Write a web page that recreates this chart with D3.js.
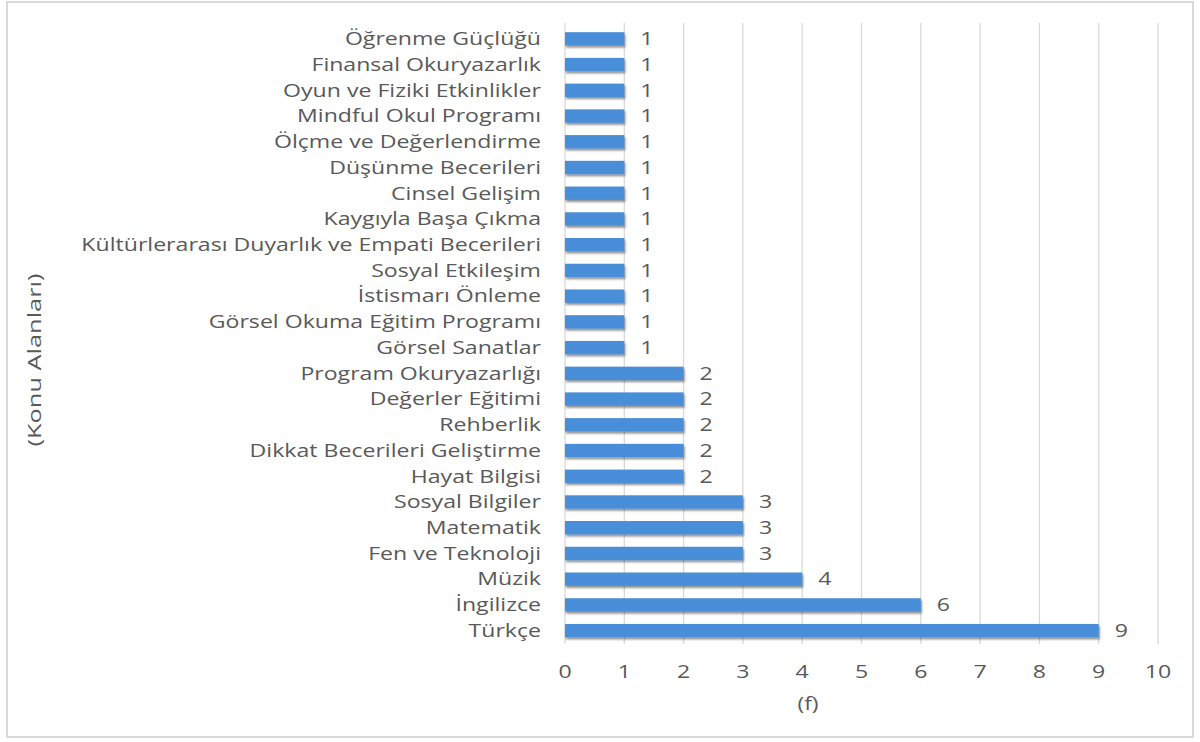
<!DOCTYPE html>
<html><head><meta charset="utf-8">
<script src="https://cdn.jsdelivr.net/npm/d3@7"></script>
<style>body{margin:0;background:#fff}svg{display:block}</style>
</head><body>
<svg id="c" width="1200" height="742"></svg>
<script>
const categories = ["Öğrenme Güçlüğü","Finansal Okuryazarlık","Oyun ve Fiziki Etkinlikler","Mindful Okul Programı","Ölçme ve Değerlendirme","Düşünme Becerileri","Cinsel Gelişim","Kaygıyla Başa Çıkma","Kültürlerarası Duyarlık ve Empati Becerileri","Sosyal Etkileşim","İstismarı Önleme","Görsel Okuma Eğitim Programı","Görsel Sanatlar","Program Okuryazarlığı","Değerler Eğitimi","Rehberlik","Dikkat Becerileri Geliştirme","Hayat Bilgisi","Sosyal Bilgiler","Matematik","Fen ve Teknoloji","Müzik","İngilizce","Türkçe"];
const values = [1,1,1,1,1,1,1,1,1,1,1,1,1,2,2,2,2,2,3,3,3,4,6,9];
const xTicks = [0,1,2,3,4,5,6,7,8,9,10];
const xTitle = "(f)";
const yTitle = "(Konu Alanları)";

const svg = d3.select("#c");
const font = "'Open Sans', sans-serif";
const textColor = "#595959";
const FS = 17.5, SX = 1.32;

svg.append("rect").attr("x",7).attr("y",2).attr("width",1186).attr("height",735)
  .attr("fill","#fff").attr("stroke","#d9d9d9").attr("stroke-width",2);

const defs = svg.append("defs");
const f = defs.append("filter").attr("id","sh").attr("x","-5%").attr("y","-50%").attr("width","110%").attr("height","250%");
f.append("feDropShadow").attr("dx",1).attr("dy",2).attr("stdDeviation",1.2).attr("flood-color","#000").attr("flood-opacity",0.45);

const x = d3.scaleLinear().domain([0,10]).range([565,1158]);
const y = d3.scaleBand().domain(categories).range([26,643.5]).paddingInner(0.48).paddingOuter(0.24);

// gridlines
svg.append("g").selectAll("line").data(xTicks).join("line")
  .attr("x1",d=>x(d)).attr("x2",d=>x(d)).attr("y1",23).attr("y2",644)
  .attr("stroke","#d9d9d9").attr("stroke-width",1.3);

// bars
svg.append("g").selectAll("rect").data(categories).join("rect")
  .attr("x",x(0)).attr("y",d=>y(d)).attr("width",(d,i)=>x(values[i])-x(0)).attr("height",y.bandwidth())
  .attr("fill","#4a8ed8").attr("filter","url(#sh)");

function stext(g, tx, ty, anchor, size, sx) {
  return g.attr("transform",(d,i)=>`translate(${tx(d,i)},${ty(d,i)}) scale(${sx},1)`)
    .attr("dy","0.36em").attr("text-anchor",anchor)
    .attr("font-family",font).attr("font-size",size).attr("fill",textColor);
}

// value labels
stext(svg.append("g").selectAll("text").data(categories).join("text"),
  (d,i)=>x(values[i])+16, d=>y(d)+y.bandwidth()/2, "start", FS, SX)
  .text((d,i)=>values[i]);

// category labels
stext(svg.append("g").selectAll("text").data(categories).join("text"),
  d=>541, d=>y(d)+y.bandwidth()/2, "end", FS, SX)
  .text(d=>d);

// x tick labels
stext(svg.append("g").selectAll("text").data(xTicks).join("text"),
  d=>x(d), d=>672, "middle", FS, SX)
  .text(d=>d);

stext(svg.append("g").selectAll("text").data([xTitle]).join("text"),
  d=>808, d=>703, "middle", 19, 1.2).text(d=>d);

svg.append("text").attr("transform","translate(35,360) rotate(-90) scale(1.45,1)").attr("dy","0.36em").attr("text-anchor","middle")
  .attr("font-family",font).attr("font-size",17.5).attr("fill",textColor).text(yTitle);
</script>
</body></html>
